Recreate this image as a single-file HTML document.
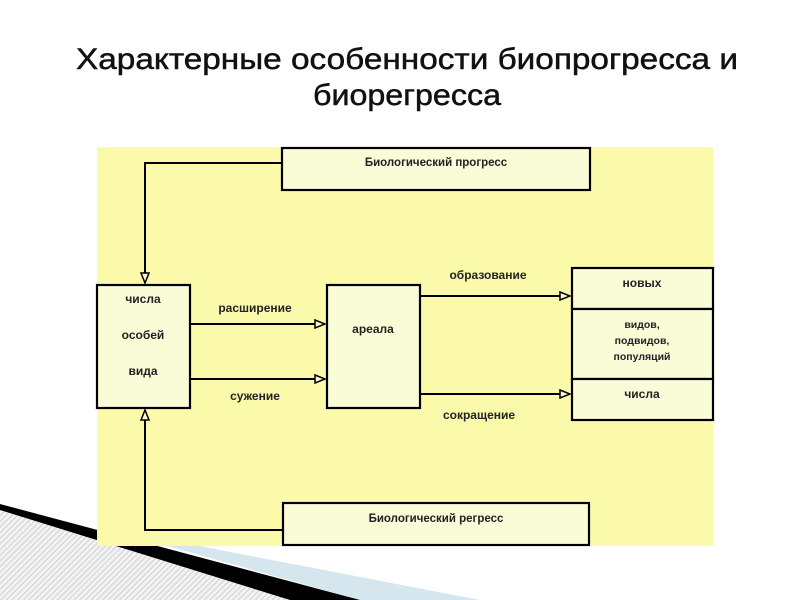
<!DOCTYPE html>
<html><head><meta charset="utf-8"><style>body{margin:0;background:#fff}svg{display:block}</style></head>
<body>
<svg width="800" height="600" viewBox="0 0 800 600" xmlns="http://www.w3.org/2000/svg" font-family="Liberation Sans, Arial, sans-serif">
<defs>
<pattern id="h" width="4" height="4" patternUnits="userSpaceOnUse" patternTransform="rotate(45)">
<rect width="4" height="4" fill="#f4f4f4"/><rect width="1.5" height="4" fill="#d8d8d8"/></pattern>
<marker id="a" markerWidth="12" markerHeight="10" refX="11" refY="5" orient="auto" markerUnits="userSpaceOnUse">
<path d="M1,1 L11,5 L1,9 Z" fill="#fafad0" stroke="#000" stroke-width="1.5"/></marker>
</defs>
<polygon points="0,510 290,600 0,600" fill="url(#h)"/>
<polygon points="100,527 480,600 360,600" fill="#d5e6ee"/>
<polygon points="0,504 360,600 290,600 0,510" fill="#000"/>
<text x="407" y="69" font-size="30" text-anchor="middle" textLength="662" lengthAdjust="spacingAndGlyphs" fill="#111" stroke="#111" stroke-width="0.5">Характерные особенности биопрогресса и</text>
<text x="407" y="105" font-size="30" text-anchor="middle" textLength="188" lengthAdjust="spacingAndGlyphs" fill="#111" stroke="#111" stroke-width="0.5">биорегресса</text>
<rect x="97" y="147" width="616" height="399" fill="#fafaaa"/>
<g stroke="#000" stroke-width="2" fill="none">
<polyline points="282,163 145,163 145,283" marker-end="url(#a)"/>
<polyline points="283,530 145,530 145,410" marker-end="url(#a)"/>
<line x1="190" y1="324" x2="325" y2="324" marker-end="url(#a)"/>
<line x1="190" y1="379" x2="325" y2="379" marker-end="url(#a)"/>
<line x1="420" y1="296" x2="570" y2="296" marker-end="url(#a)"/>
<line x1="420" y1="394" x2="570" y2="394" marker-end="url(#a)"/>
</g>
<g stroke="#000" stroke-width="2.2" fill="#fafcd8">
<rect x="282" y="148" width="308" height="42"/>
<rect x="97" y="285" width="93" height="123"/>
<rect x="327" y="285" width="93" height="123"/>
<rect x="572" y="268" width="141" height="41"/>
<rect x="572" y="309" width="141" height="70"/>
<rect x="572" y="379" width="141" height="41"/>
<rect x="283" y="503" width="306" height="42"/>
</g>
<g font-size="12" font-weight="bold" fill="#222" text-anchor="middle">
<text x="436" y="166" font-size="11.5">Биологический прогресс</text>
<text x="436" y="522" font-size="11.5">Биологический регресс</text>
<text x="143" y="303">числа</text>
<text x="143" y="339">особей</text>
<text x="143" y="375">вида</text>
<text x="373" y="333">ареала</text>
<text x="255" y="312">расширение</text>
<text x="255" y="400">сужение</text>
<text x="488" y="279">образование</text>
<text x="479" y="419">сокращение</text>
<text x="642" y="287">новых</text>
<text x="642" y="328" font-size="10.5">видов,</text>
<text x="642" y="344" font-size="10.5">подвидов,</text>
<text x="642" y="360" font-size="10.5">популяций</text>
<text x="642" y="398">числа</text>
</g>
</svg>
</body></html>
